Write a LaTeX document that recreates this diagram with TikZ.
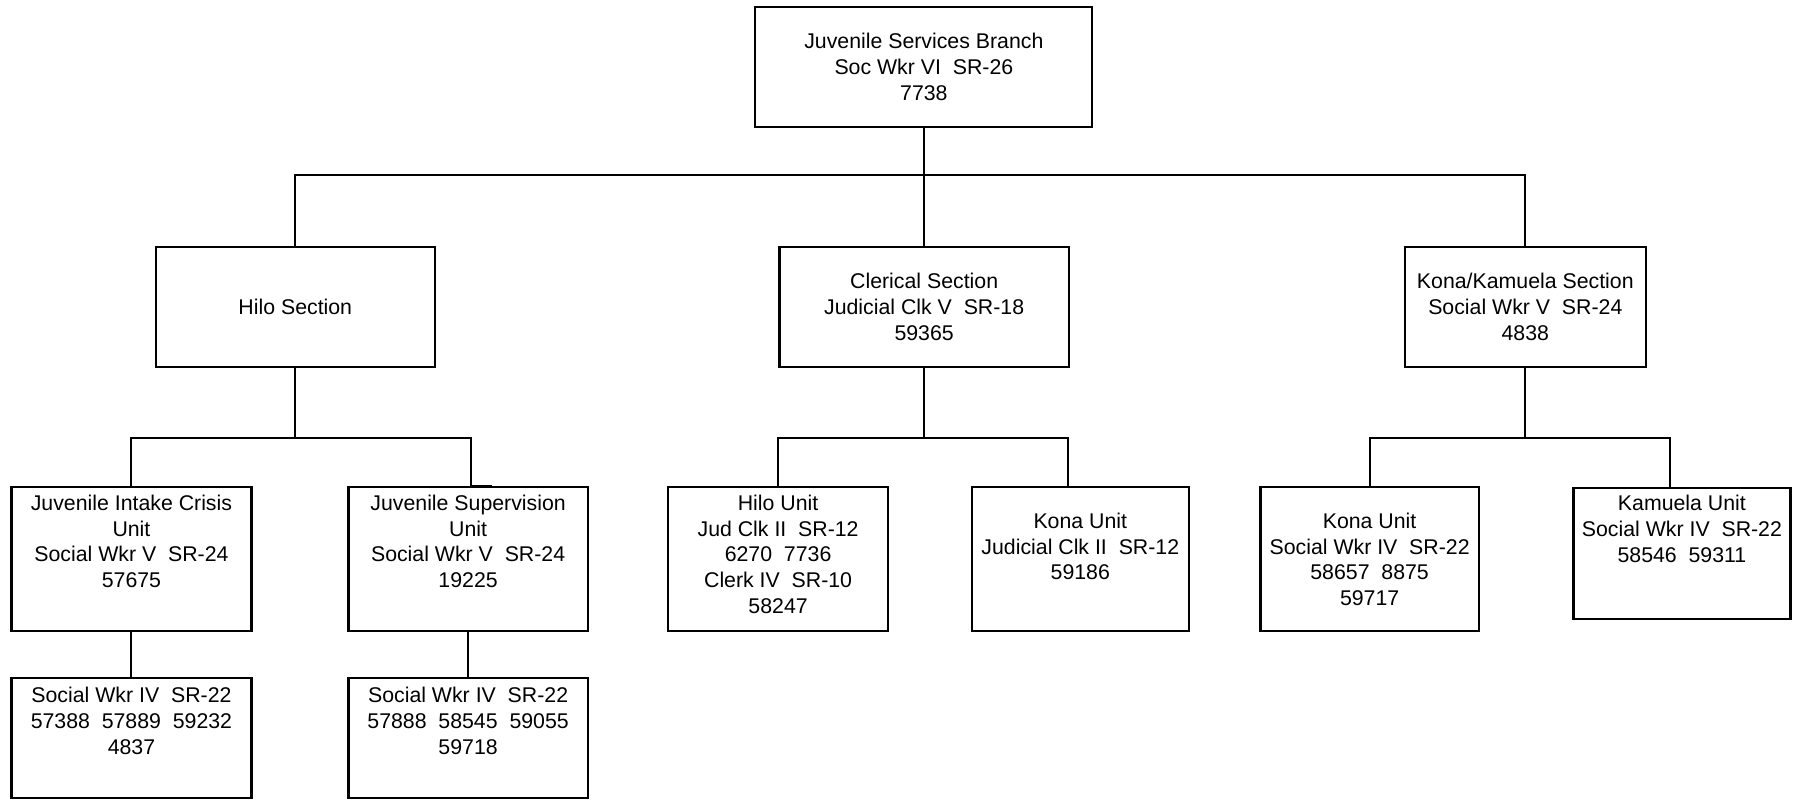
\documentclass[tikz,border=0pt]{standalone}
\usepackage{fontspec}
\setmainfont{Liberation Sans}
\begin{document}
\begin{tikzpicture}[x=0.5pt,y=-0.5pt,
  box/.style={draw,line width=1.1pt,inner sep=0pt,rectangle},
  lbl/.style={align=center,inner sep=0pt,font=\fontsize{10.65pt}{12.9pt}\selectfont},
  conn/.style={line width=1pt}]
\useasboundingbox (0,0) rectangle (1798,800);
% boxes
\node[box,minimum width=168.5pt,minimum height=60pt] (top) at (923.85,66.7) {};
\node[box,minimum width=139.7pt,minimum height=60.15pt] (hilosec) at (295.3,306.85) {};
\node[box,minimum width=144.65pt,minimum height=60.15pt] (cler) at (924.15,306.85) {};
\node[box,minimum width=120.7pt,minimum height=60.15pt] (kks) at (1525.3,306.85) {};
\node[box,minimum width=119.95pt,minimum height=72pt] (jic) at (131.45,558.7) {};
\node[box,minimum width=119.7pt,minimum height=72pt] (js) at (468.1,558.7) {};
\node[box,minimum width=109.9pt,minimum height=72pt] (hu) at (778.1,558.7) {};
\node[box,minimum width=108.5pt,minimum height=72pt] (kuc) at (1080.3,558.7) {};
\node[box,minimum width=109.1pt,minimum height=72pt] (kus) at (1369.6,558.7) {};
\node[box,minimum width=108.5pt,minimum height=65.8pt] (kam) at (1681.9,553.5) {};
\node[box,minimum width=119.95pt,minimum height=59.85pt] (sub1) at (131.45,738.15) {};
\node[box,minimum width=119.7pt,minimum height=59.85pt] (sub2) at (468.1,738.15) {};
% texts
\node[lbl] (topt) at (923.85,66.7) {Juvenile Services Branch\\Soc Wkr VI\ \ SR-26\\7738};
\node[lbl] (hilosect) at (295.3,306.7) {Hilo Section};
\node[lbl] (clert) at (924.15,306.7) {Clerical Section\\Judicial Clk V\ \ SR-18\\59365};
\node[lbl] (kkst) at (1525.3,306.7) {Kona/Kamuela Section\\Social Wkr V\ \ SR-24\\4838};
\node[lbl] (jict) at (131.45,541.4) {Juvenile Intake Crisis\\Unit\\Social Wkr V\ \ SR-24\\57675};
\node[lbl] (jst) at (468.1,541.4) {Juvenile Supervision\\Unit\\Social Wkr V\ \ SR-24\\19225};
\node[lbl] (hut) at (778.1,554.3) {Hilo Unit\\Jud Clk II\ \ SR-12\\6270\ \ 7736\\Clerk IV\ \ SR-10\\58247};
\node[lbl] (kuct) at (1080.3,546.5) {Kona Unit\\Judicial Clk II\ \ SR-12\\59186};
\node[lbl] (kust) at (1369.6,559.4) {Kona Unit\\Social Wkr IV\ \ SR-22\\58657\ \ 8875\\59717};
\node[lbl] (kamt) at (1681.9,529.1) {Kamuela Unit\\Social Wkr IV\ \ SR-22\\58546\ \ 59311};
\node[lbl] (sub1t) at (131.45,720.8) {Social Wkr IV\ \ SR-22\\57388\ \ 57889\ \ 59232\\4837};
\node[lbl] (sub2t) at (468.1,720.8) {Social Wkr IV\ \ SR-22\\57888\ \ 58545\ \ 59055\\59718};
% connectors
\coordinate (bus1) at (0,174.7);
\coordinate (bus2) at (0,438.3);
\coordinate (jsc) at (470.7,438.3);
\coordinate (kcc) at (1068.2,438.3);
\coordinate (kmc) at (1669.8,438.3);
\draw[conn] (top.south) -- (top.south |- cler.north);
\draw[conn] (hilosec.north) -- (hilosec.north |- bus1) -- (kks.north |- bus1) -- (kks.north);
\draw[conn] (hilosec.south) -- (hilosec.south |- bus2);
\draw[conn] (jic.north) -- (jic.north |- bus2) -- (jsc) -- (jsc |- js.north) -- ++(21.6,0);
\draw[conn] (cler.south) -- (cler.south |- bus2);
\draw[conn] (hu.north) -- (hu.north |- bus2) -- (kcc) -- (kcc |- kuc.north);
\draw[conn] (kks.south) -- (kks.south |- bus2);
\draw[conn] (kus.north) -- (kus.north |- bus2) -- (kmc) -- (kmc |- kam.north);
\draw[conn] (jic.south) -- (sub1.north);
\draw[conn] (js.south) -- (sub2.north);
\end{tikzpicture}
\end{document}
